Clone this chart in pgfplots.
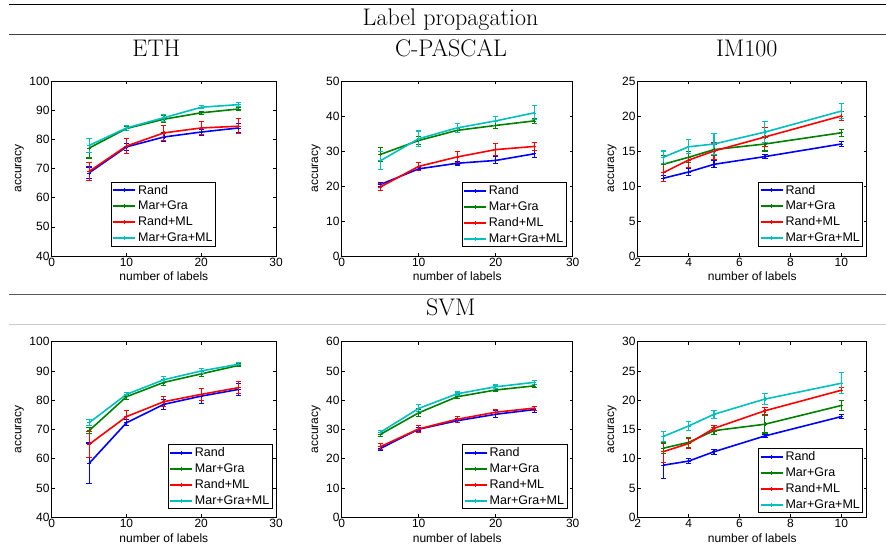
\documentclass[border=0pt]{standalone}
\usepackage{fontspec}
\setsansfont{Liberation Sans}
\usepackage{pgfplots}
\pgfplotsset{compat=1.18}
\definecolor{mblue}{rgb}{0,0,1}
\definecolor{mgreen}{rgb}{0,0.5,0}
\definecolor{mred}{rgb}{1,0,0}
\definecolor{mcyan}{rgb}{0,0.75,0.75}
\newcommand{\axf}{\sffamily\fontsize{12}{14}\selectfont}
\newcommand{\lgf}{\sffamily\fontsize{12.5}{14}\selectfont}
\newcommand{\ttf}{\fontsize{24}{28}\selectfont}
\pgfplotsset{
 myax/.style={scale only axis, anchor=south west,
  axis line style={line width=0.8pt},
  tick align=inside, tick pos=both, major tick length=3pt,
  every tick/.style={black, line width=0.6pt},
  /pgf/number format/assume math mode=true,
  ticklabel style={font=\axf, inner sep=2pt},
  label style={font=\axf},
  xlabel={number of labels}, ylabel={accuracy},
  legend cell align=left,
  legend style={font=\lgf, draw=black, line width=0.8pt, fill=white, inner sep=1pt, nodes={inner sep=2pt}, row sep=1.6pt},
  legend image code/.code={\draw[mark repeat=2,mark phase=2,##1,line width=1.9pt,mark options={line width=0.6pt}] plot coordinates {(0pt,0pt) (11pt,0pt) (22pt,0pt)};},
 },
 ser/.style={color=#1, line width=1.6pt, mark=+, mark size=2pt, mark options={line width=0.6pt},
  /pgfplots/error bars/y dir=both, /pgfplots/error bars/y explicit,
  /pgfplots/error bars/error bar style={line width=1.1pt},
  /pgfplots/error bars/error mark options={rotate=90, mark size=2.6pt, line width=1.1pt}},
}
\begin{document}
\begin{tikzpicture}
\path[use as bounding box] (0,0) rectangle (886pt,548pt);
% rules and headings
\draw[black, line width=0.9pt] (9pt,543.7pt) -- (886pt,543.7pt);
\draw[black!75, line width=1.5pt] (9pt,513.7pt) -- (886pt,513.7pt);
\draw[black!65, line width=1.5pt] (9pt,253.7pt) -- (886pt,253.7pt);
\draw[black!20, line width=0.8pt] (9pt,223.7pt) -- (886pt,223.7pt);
\node[anchor=base, inner sep=0pt] at (450.5pt,522pt) {\ttf Label propagation};
\node[anchor=base, inner sep=0pt] at (450.8pt,232pt) {\ttf SVM};
\node[anchor=base, inner sep=0pt] at (156.3pt,491.3pt) {\ttf ETH};
\node[anchor=base, inner sep=0pt] at (451pt,491.3pt) {\ttf C-PASCAL};
\node[anchor=base, inner sep=0pt] at (746.7pt,491.3pt) {\ttf IM100};

% ---------- Row 1: Label propagation ----------
\begin{axis}[myax, at={(51.7pt,292pt)}, width=224.3pt, height=175pt,
  xmin=0, xmax=30, ymin=40, ymax=100, xtick={0,10,20,30}, ytick={40,50,...,100},
  legend style={at={(0.264,0.053)}, anchor=south west}]
\addplot[ser=mblue] table[x=x,y=y,y error=e] {
x y e
5 68.5 2.0
10 77.4 1.2
15 80.8 1.5
20 82.5 1.0
25 83.9 1.5
};
\addplot[ser=mgreen] table[x=x,y=y,y error=e] {
x y e
5 77.0 3.4
10 83.7 0.8
15 86.9 1.2
20 89.1 0.5
25 90.4 0.6
};
\addplot[ser=mred] table[x=x,y=y,y error=e] {
x y e
5 69.0 3.0
10 77.7 2.7
15 82.2 2.6
20 83.9 2.3
25 84.5 2.6
};
\addplot[ser=mcyan] table[x=x,y=y,y error=e] {
x y e
5 77.9 2.4
10 83.9 0.8
15 87.4 1.2
20 91.0 0.5
25 91.9 0.6
};
\legend{Rand,Mar+Gra,Rand+ML,Mar+Gra+ML}
\end{axis}

\begin{axis}[myax, at={(341.7pt,292pt)}, width=231pt, height=175pt,
  xmin=0, xmax=30, ymin=0, ymax=50, xtick={0,10,20,30}, ytick={0,10,...,50},
  legend style={at={(0.974,0.05)}, anchor=south east}]
\addplot[ser=mblue] table[x=x,y=y,y error=e] {
x y e
5 20.4 0.5
10 24.9 0.5
15 26.5 0.5
20 27.3 1.0
25 29.2 1.0
};
\addplot[ser=mgreen] table[x=x,y=y,y error=e] {
x y e
5 29.0 2.0
10 33.0 1.2
15 35.9 0.6
20 37.3 1.0
25 38.6 0.7
};
\addplot[ser=mred] table[x=x,y=y,y error=e] {
x y e
5 19.7 1.0
10 25.6 1.2
15 28.3 1.5
20 30.4 1.8
25 31.3 1.2
};
\addplot[ser=mcyan] table[x=x,y=y,y error=e] {
x y e
5 27.2 2.6
10 33.5 2.2
15 36.6 1.2
20 38.6 1.3
25 40.9 2.0
};
\legend{Rand,Mar+Gra,Rand+ML,Mar+Gra+ML}
\end{axis}

\begin{axis}[myax, at={(637.7pt,292pt)}, width=229pt, height=175pt,
  xmin=2, xmax=11, ymin=0, ymax=25, xtick={2,4,...,10}, ytick={0,5,...,25},
  legend style={at={(0.985,0.053)}, anchor=south east}]
\addplot[ser=mblue] table[x=x,y=y,y error=e] {
x y e
3 11.1 0.4
4 12.0 0.5
5 13.1 0.5
7 14.2 0.3
10 16.0 0.3
};
\addplot[ser=mgreen] table[x=x,y=y,y error=e] {
x y e
3 13.1 1.2
4 14.1 0.8
5 15.2 0.8
7 16.0 1.0
10 17.6 0.5
};
\addplot[ser=mred] table[x=x,y=y,y error=e] {
x y e
3 11.9 1.2
4 13.7 1.0
5 15.0 1.2
7 17.0 1.4
10 20.0 0.6
};
\addplot[ser=mcyan] table[x=x,y=y,y error=e] {
x y e
3 14.1 0.9
4 15.6 1.0
5 16.0 1.5
7 17.7 1.5
10 20.7 1.1
};
\legend{Rand,Mar+Gra,Rand+ML,Mar+Gra+ML}
\end{axis}

% ---------- Row 2: SVM ----------
\begin{axis}[myax, at={(51.7pt,30.7pt)}, width=224.3pt, height=175.6pt,
  xmin=0, xmax=30, ymin=40, ymax=100, xtick={0,10,20,30}, ytick={40,50,...,100},
  legend style={at={(0.985,0.046)}, anchor=south east}]
\addplot[ser=mblue] table[x=x,y=y,y error=e] {
x y e
5 58.4 7.0
10 72.3 1.0
15 78.6 1.7
20 81.4 2.5
25 83.7 2.0
};
\addplot[ser=mgreen] table[x=x,y=y,y error=e] {
x y e
5 69.6 1.0
10 81.2 0.8
15 86.1 1.0
20 89.0 0.8
25 91.9 0.5
};
\addplot[ser=mred] table[x=x,y=y,y error=e] {
x y e
5 64.9 4.5
10 74.4 2.0
15 79.5 1.7
20 82.0 2.0
25 84.3 2.0
};
\addplot[ser=mcyan] table[x=x,y=y,y error=e] {
x y e
5 72.3 1.0
10 82.0 0.7
15 87.0 1.0
20 90.0 0.8
25 92.3 0.5
};
\legend{Rand,Mar+Gra,Rand+ML,Mar+Gra+ML}
\end{axis}

\begin{axis}[myax, at={(341.7pt,30.7pt)}, width=231pt, height=175.6pt,
  xmin=0, xmax=30, ymin=0, ymax=60, xtick={0,10,20,30}, ytick={0,10,...,60},
  legend style={at={(0.977,0.046)}, anchor=south east}]
\addplot[ser=mblue] table[x=x,y=y,y error=e] {
x y e
5 23.5 0.6
10 30.1 0.6
15 33.0 0.7
20 35.2 1.2
25 36.8 1.0
};
\addplot[ser=mgreen] table[x=x,y=y,y error=e] {
x y e
5 28.3 0.8
10 35.7 1.3
15 41.2 0.6
20 43.5 0.6
25 44.9 0.6
};
\addplot[ser=mred] table[x=x,y=y,y error=e] {
x y e
5 24.1 1.0
10 30.2 1.2
15 33.5 1.0
20 35.9 0.8
25 37.3 0.7
};
\addplot[ser=mcyan] table[x=x,y=y,y error=e] {
x y e
5 29.0 0.7
10 37.2 1.2
15 42.2 0.6
20 44.6 0.6
25 46.1 0.6
};
\legend{Rand,Mar+Gra,Rand+ML,Mar+Gra+ML}
\end{axis}

\begin{axis}[myax, at={(637.7pt,30.7pt)}, width=229pt, height=175.6pt,
  xmin=2, xmax=11, ymin=0, ymax=30, xtick={2,4,...,10}, ytick={0,5,...,30},
  legend style={at={(0.985,0.023)}, anchor=south east}]
\addplot[ser=mblue] table[x=x,y=y,y error=e] {
x y e
3 8.9 2.3
4 9.6 0.4
5 11.2 0.4
7 13.9 0.3
10 17.2 0.3
};
\addplot[ser=mgreen] table[x=x,y=y,y error=e] {
x y e
3 11.8 0.9
4 12.8 0.8
5 14.8 0.6
7 15.9 1.5
10 19.1 0.8
};
\addplot[ser=mred] table[x=x,y=y,y error=e] {
x y e
3 11.2 1.8
4 12.6 0.8
5 15.2 0.5
7 18.2 0.6
10 21.7 0.5
};
\addplot[ser=mcyan] table[x=x,y=y,y error=e] {
x y e
3 13.8 0.9
4 15.6 0.7
5 17.6 0.7
7 20.2 1.0
10 22.9 1.8
};
\legend{Rand,Mar+Gra,Rand+ML,Mar+Gra+ML}
\end{axis}
\end{tikzpicture}
\end{document}
